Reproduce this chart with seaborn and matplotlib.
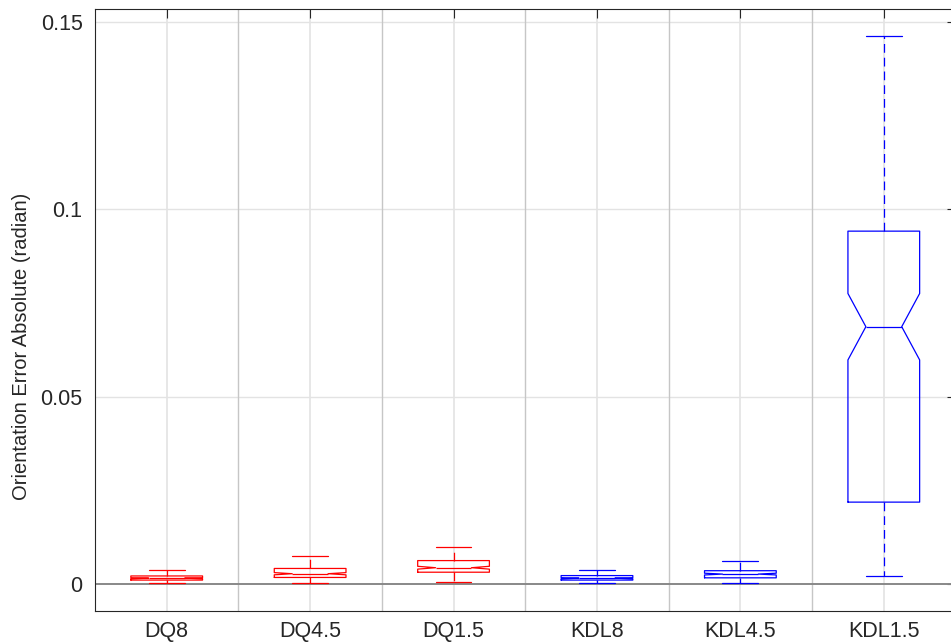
import numpy as np
import pandas as pd
import matplotlib
matplotlib.use("Agg")
import matplotlib.pyplot as plt
import seaborn as sns

# Box summaries (radian)
labels = ["DQ8", "DQ4.5", "DQ1.5", "KDL8", "KDL4.5", "KDL1.5"]
family = ["DQ", "DQ", "DQ", "KDL", "KDL", "KDL"]
whisk_lo = [0.0003, 0.0004, 0.0006, 0.0002, 0.0003, 0.0021]
q1 = [0.0011, 0.0018, 0.0032, 0.0011, 0.0017, 0.0219]
median = [0.0016, 0.0028, 0.0044, 0.0016, 0.0027, 0.0687]
q3 = [0.0022, 0.0042, 0.0063, 0.0023, 0.0036, 0.0942]
whisk_hi = [0.0038, 0.0074, 0.0100, 0.0038, 0.0062, 0.1462]
# how many samples sit at each summary value (164 per group, gives the notch size)
counts = [1, 54, 54, 54, 1]

rows = []
for i, lab in enumerate(labels):
    vals = np.repeat([whisk_lo[i], q1[i], median[i], q3[i], whisk_hi[i]], counts)
    for v in vals:
        rows.append({"method": lab, "family": family[i], "error": v})
df = pd.DataFrame(rows)

sns.set_style("white")
plt.rcParams['font.family'] = ['Liberation Sans', 'DejaVu Sans']
dark = "#262626"

fig = plt.figure(figsize=(9.51, 6.44), dpi=100)
ax = fig.add_axes([95 / 951, 33 / 644, 860.5 / 951, 602 / 644])

sns.boxplot(data=df, x="method", y="error", hue="family",
            palette={"DQ": "#ff0000", "KDL": "#0000ff"},
            order=labels, fill=False, dodge=False, width=0.5,
            whis=(0, 100), notch=True, linewidth=0.9, legend=False,
            whiskerprops={"linestyle": (0, (7, 4))}, ax=ax, zorder=3)

# grid, group separators, zero line
for x in range(len(labels)):
    ax.axvline(x, color="#e3e3e3", lw=1.2, zorder=0)
for x in np.arange(0.5, len(labels) - 1, 1.0):
    ax.axvline(x, color="#c6c6c6", lw=1.0, zorder=0.5)
for y in [0.05, 0.1, 0.15]:
    ax.axhline(y, color="#e3e3e3", lw=1.0, zorder=0)
ax.axhline(0, color="#888888", lw=1.4, zorder=1)

ax.set_xlim(-0.5, 5.5)
ax.set_ylim(-0.00715, 0.15347)
ax.set_yticks([0, 0.05, 0.1, 0.15])
ax.set_yticklabels(["0", "0.05", "0.1", "0.15"])
ax.set_xticks(range(len(labels)))
ax.set_xticklabels(labels)
ax.tick_params(axis="both", direction="in", length=6.5, width=0.8,
               colors=dark, labelsize=15.5, top=True, right=True)
ax.tick_params(axis="y", pad=9)
ax.tick_params(axis="x", pad=7)
for s in ax.spines.values():
    s.set_color(dark)
    s.set_linewidth(0.8)

ax.set_xlabel("")
ax.set_ylabel("Orientation Error Absolute (radian)", fontsize=14.5, color=dark)
ax.yaxis.set_label_coords(-0.074, 0.44)

fig.savefig("out.png", dpi=100)
